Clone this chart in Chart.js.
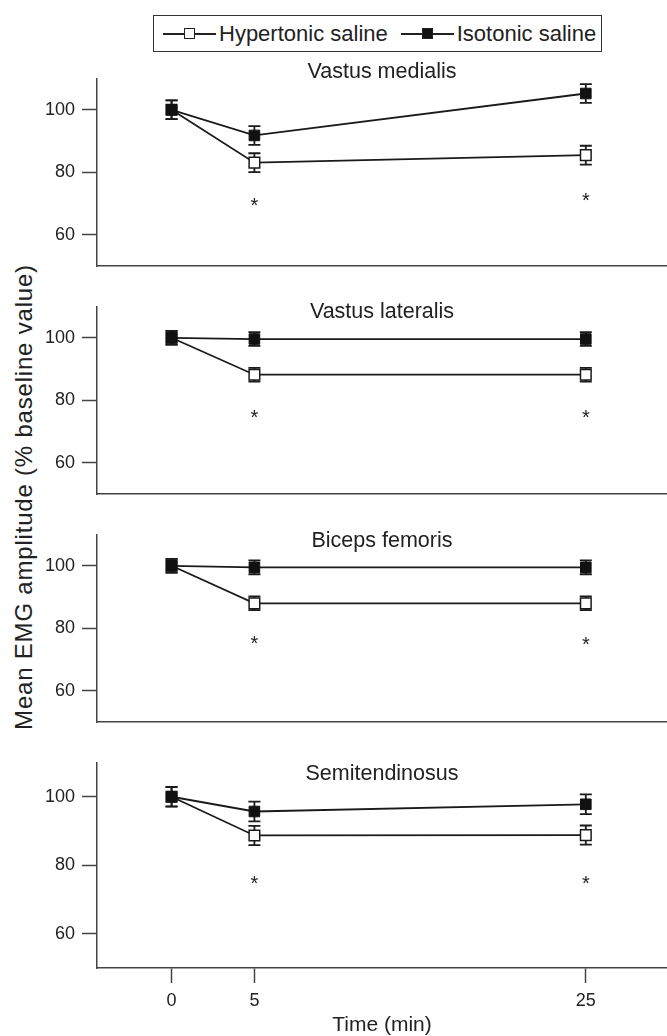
<!DOCTYPE html>
<html lang="en">
<head>
<meta charset="UTF-8">
<title>Mean EMG amplitude</title>
<script src="https://cdn.jsdelivr.net/npm/chart.js"></script>
<style>
  body { margin: 0; background: #fff; font-family: 'Liberation Sans', Arial, sans-serif; color: #222; }
  #wrap { position: relative; width: 667px; height: 1036px; overflow: hidden; }
  #wrap canvas { position: absolute; left: 0; }
  .legend { position: absolute; left: 153px; top: 15px; width: 449px; height: 37px; box-sizing: border-box;
            border: 1.5px solid #333; display: flex; align-items: center; padding-left: 9px; font-size: 22px;
            white-space: nowrap; }
  .item { display: flex; align-items: center; margin-right: 13px; }
  .mark { position: relative; width: 53px; height: 12px; margin-right: 3px; flex: none; }
  .mark::before { content: ''; position: absolute; left: 0; right: 0; top: 5px; border-top: 2px solid #222; }
  .mark span { position: absolute; left: 21px; top: 0; width: 9px; height: 9px; border: 1.5px solid #222; background: #fff; }
  .mark.filled span { background: #111; }
  .ylabel { position: absolute; left: 24px; top: 497px; transform: translate(-50%, -50%) rotate(-90deg);
            white-space: nowrap; font-size: 24px; letter-spacing: 0.8px; }
</style>
</head>
<body>
<div id="wrap">
  <div class="legend" id="legend"></div>
  <div class="ylabel">Mean EMG amplitude (% baseline value)</div>
</div>
<script>
  // time points (min) and axis ticks
  const times = [0, 5, 25];
  const xTicks = [0, 5, 25];
  const yTicks = [60, 80, 100];
  const seriesNames = ['Hypertonic saline', 'Isotonic saline'];
  const muscles = ['Vastus medialis', 'Vastus lateralis', 'Biceps femoris', 'Semitendinosus'];

  // means and error bars, % of baseline
  const hyperVM = [100, 83.1, 85.5];
  const hyperVMErr = [3, 3, 3];
  const isoVM = [100, 91.8, 105.2];
  const isoVMErr = [3, 3, 3];

  const hyperVL = [100, 88.2, 88.2];
  const hyperVLErr = [2.2, 2.2, 2.2];
  const isoVL = [100, 99.6, 99.6];
  const isoVLErr = [2.2, 2.2, 2.2];

  const hyperBF = [100, 88, 88];
  const hyperBFErr = [2.2, 2.2, 2.2];
  const isoBF = [100, 99.5, 99.5];
  const isoBFErr = [2.2, 2.2, 2.2];

  const hyperST = [100, 88.7, 88.8];
  const hyperSTErr = [2.8, 2.8, 2.8];
  const isoST = [100, 95.7, 97.8];
  const isoSTErr = [2.9, 2.9, 2.9];

  // significance markers (*)
  const starTimes = [5, 25];
  const starVM = [73.3, 74.9];
  const starVL = [78.2, 78.2];
  const starBF = [79, 78.8];
  const starST = [78.2, 78.2];

  const panels = [
    { hyper: hyperVM, hyperErr: hyperVMErr, iso: isoVM, isoErr: isoVMErr, stars: starVM, titleDy: -6.5 },
    { hyper: hyperVL, hyperErr: hyperVLErr, iso: isoVL, isoErr: isoVLErr, stars: starVL, titleDy: 5.5 },
    { hyper: hyperBF, hyperErr: hyperBFErr, iso: isoBF, isoErr: isoBFErr, stars: starBF, titleDy: 6.5 },
    { hyper: hyperST, hyperErr: hyperSTErr, iso: isoST, isoErr: isoSTErr, stars: starST, titleDy: 11.5 }
  ];

  Chart.defaults.font.family = "'Liberation Sans', Arial, sans-serif";
  Chart.defaults.color = '#222';

  // legend (html, line + square marker)
  const legend = document.getElementById('legend');
  seriesNames.forEach((name, i) => {
    const item = document.createElement('div');
    item.className = 'item';
    item.innerHTML = '<div class="mark' + (i === 1 ? ' filled' : '') + '"><span></span></div>' + name;
    legend.appendChild(item);
  });

  const errorBars = {
    id: 'errorBars',
    beforeDatasetsDraw(chart) {
      const { ctx, scales: { x, y } } = chart;
      ctx.save();
      ctx.strokeStyle = '#1a1a1a';
      ctx.lineWidth = 1.8;
      chart.data.datasets.forEach(ds => {
        ds.data.forEach((p, i) => {
          const e = ds.errors[i];
          const px = x.getPixelForValue(p.x);
          const top = y.getPixelForValue(p.y + e);
          const bot = y.getPixelForValue(p.y - e);
          ctx.beginPath();
          ctx.moveTo(px, top); ctx.lineTo(px, bot);
          ctx.moveTo(px - 6, top); ctx.lineTo(px + 6, top);
          ctx.moveTo(px - 6, bot); ctx.lineTo(px + 6, bot);
          ctx.stroke();
        });
      });
      ctx.restore();
    }
  };

  const stars = {
    id: 'stars',
    afterDatasetsDraw(chart, args, opts) {
      const { ctx, scales: { x, y } } = chart;
      ctx.save();
      ctx.fillStyle = '#222';
      ctx.font = "20px 'Liberation Sans', Arial, sans-serif";
      ctx.textAlign = 'center';
      ctx.textBaseline = 'alphabetic';
      starTimes.forEach((t, i) => {
        ctx.fillText('*', x.getPixelForValue(t), y.getPixelForValue(opts.values[i]) + 18.5);
      });
      ctx.restore();
    }
  };

  const panelTitle = {
    id: 'panelTitle',
    afterDraw(chart, args, opts) {
      const { ctx, chartArea } = chart;
      ctx.save();
      ctx.fillStyle = '#222';
      ctx.font = "21.5px 'Liberation Sans', Arial, sans-serif";
      ctx.textAlign = 'center';
      ctx.textBaseline = 'middle';
      ctx.fillText(opts.text, (chartArea.left + chartArea.right) / 2, chartArea.top + opts.dy);
      ctx.restore();
    }
  };

  const wrap = document.getElementById('wrap');
  panels.forEach((p, k) => {
    const last = k === panels.length - 1;
    const canvas = document.createElement('canvas');
    const top = 56 + 228 * k;
    canvas.width = 667;
    canvas.height = last ? 1036 - top : 228;
    canvas.style.top = top + 'px';
    wrap.appendChild(canvas);

    new Chart(canvas, {
      type: 'line',
      data: {
        datasets: [
          {
            label: seriesNames[1],
            data: times.map((t, i) => ({ x: t, y: p.iso[i] })),
            errors: p.isoErr,
            order: 0,
            borderColor: '#1a1a1a', borderWidth: 1.8, tension: 0,
            pointStyle: 'rect', pointRadius: 7.5,
            pointBackgroundColor: '#111', pointBorderColor: '#111', pointBorderWidth: 1
          },
          {
            label: seriesNames[0],
            data: times.map((t, i) => ({ x: t, y: p.hyper[i] })),
            errors: p.hyperErr,
            order: 1,
            borderColor: '#1a1a1a', borderWidth: 1.8, tension: 0,
            pointStyle: 'rect', pointRadius: 7.5,
            pointBackgroundColor: '#fff', pointBorderColor: '#1a1a1a', pointBorderWidth: 1.5
          }
        ]
      },
      options: {
        responsive: false,
        animation: false,
        events: [],
        layout: { autoPadding: false, padding: { top: 22.5, left: 0, right: 0, bottom: 0 } },
        plugins: {
          legend: { display: false },
          tooltip: { enabled: false },
          stars: { values: p.stars },
          panelTitle: { text: muscles[k], dy: p.titleDy }
        },
        scales: {
          x: {
            type: 'linear', min: -4.5, max: 29.9,
            afterBuildTicks: s => { s.ticks = xTicks.map(v => ({ value: v })); },
            afterFit: s => { s.height = last ? 68 : 0; },
            grid: { drawOnChartArea: false, drawTicks: last, tickLength: 15, tickColor: '#444', tickWidth: 1.5 },
            border: { display: true, color: '#444', width: 1.5 },
            ticks: { display: last, padding: 7, font: { size: 18 } },
            title: { display: last, text: 'Time (min)', font: { size: 21, lineHeight: 1 }, padding: { top: 0, bottom: 0 } }
          },
          y: {
            min: 50, max: 110,
            afterBuildTicks: s => { s.ticks = yTicks.map(v => ({ value: v })); },
            afterFit: s => { s.width = 97; },
            grid: { drawOnChartArea: false, tickLength: 15, tickColor: '#444', tickWidth: 1.5 },
            border: { display: true, color: '#444', width: 1.5 },
            ticks: { padding: 7, font: { size: 18 } }
          }
        }
      },
      plugins: [errorBars, stars, panelTitle]
    });
  });
</script>
</body>
</html>
